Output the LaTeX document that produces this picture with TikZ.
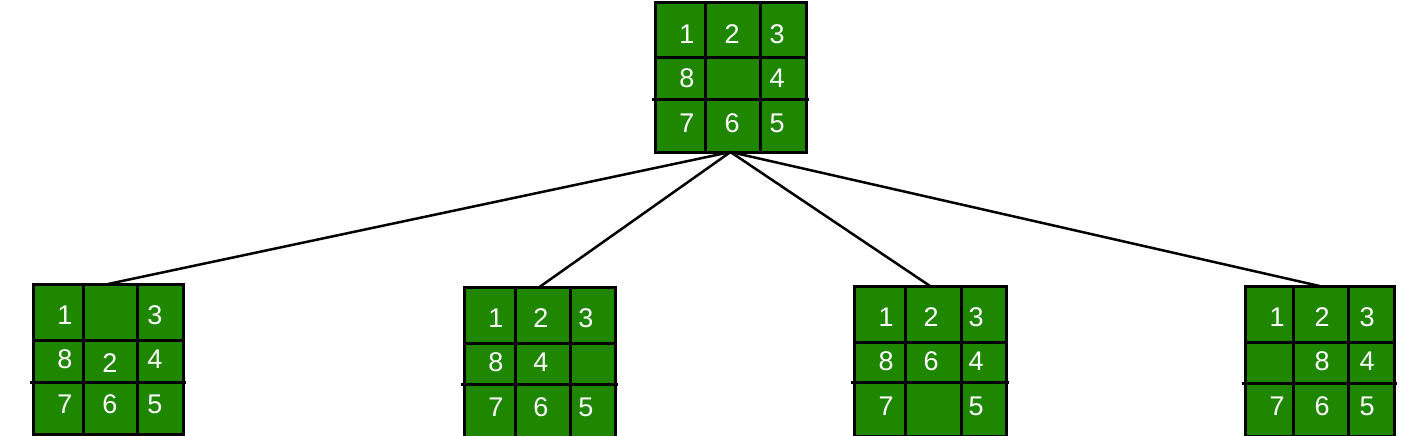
\documentclass[tikz,border=0pt]{standalone}
\usepackage{fontspec}
\setmainfont{Liberation Sans}
\definecolor{tile}{RGB}{31,134,0}
\tikzset{
  board/.style={draw=black, fill=tile, line width=3pt, inner sep=0pt, outer sep=0pt, rectangle},
  gridline/.style={draw=black, line width=3pt},
  edge/.style={draw=black, line width=2.5pt},
  digit/.style={text=white, font=\fontsize{27}{27}\selectfont, inner sep=0pt}
}
\newcommand\board[9]{%
  \node[board, minimum width={(#4-#2)*1pt}, minimum height={(#5-#3)*1pt}] (#1) at ({(#2+#4)/2},{(#3+#5)/2}) {};
  \draw[gridline] (#6,#3) -- (#6,#5) (#7,#3) -- (#7,#5) (#2,#8) -- (#4,#8) ({#2-3},#9) -- ({#4+3},#9);
}
\newcommand\digits[4]{%
  \foreach \d [count=\i from 0] in {#4} {%
    \pgfmathsetmacro\dx{{32,77,122}[mod(\i,3)]}%
    \pgfmathsetmacro\dy{{31,75,120}[int(\i/3)]}%
    \if x\d\else\node[digit] (#1-\i) at ({#2+\dx},{#3+\dy}) {\d};\fi
  }%
}
\begin{document}
\begin{tikzpicture}[x=1pt,y=-1pt]
\useasboundingbox (0,0) rectangle (1419,436);
% boards
\board{root}{655}{3}{806}{152}{705}{760}{58}{99}
\board{c1}{33}{284}{183}{434}{83}{137}{340}{382}
\board{c2}{464}{287}{615}{437}{515}{570}{343}{384}
\board{c3}{854}{286}{1006}{436}{905}{961}{342}{382}
\board{c4}{1245}{286}{1394}{436}{1293}{1348}{342}{383}
% digits
\digits{root}{655}{3}{1,2,3,8,x,4,7,6,5}
\digits{c1}{33}{284}{1,x,3,8,x,4,7,6,5}
\node[digit] (c1-4) at (110,363) {2};
\digits{c2}{464}{287}{1,2,3,8,4,x,7,6,5}
\digits{c3}{854}{286}{1,2,3,8,6,4,7,x,5}
\digits{c4}{1245}{286}{1,2,3,x,8,4,7,6,5}
% connectors
\draw[edge] (root.south) -- (c1.north);
\draw[edge] (root.south) -- (c2.north);
\draw[edge] (root.south) -- (c3.north);
\draw[edge] (root.south) -- (c4.north);
% stubs continuing below
\coordinate (e1) at (108,460);
\coordinate (e2) at (540,460);
\coordinate (e3) at (930,460);
\coordinate (e4) at (1320,460);
\draw[edge] (c1.south) -- (e1);
\draw[edge] (c2.south) -- (e2);
\draw[edge] (c3.south) -- (e3);
\draw[edge] (c4.south) -- (e4);
\end{tikzpicture}
\end{document}
